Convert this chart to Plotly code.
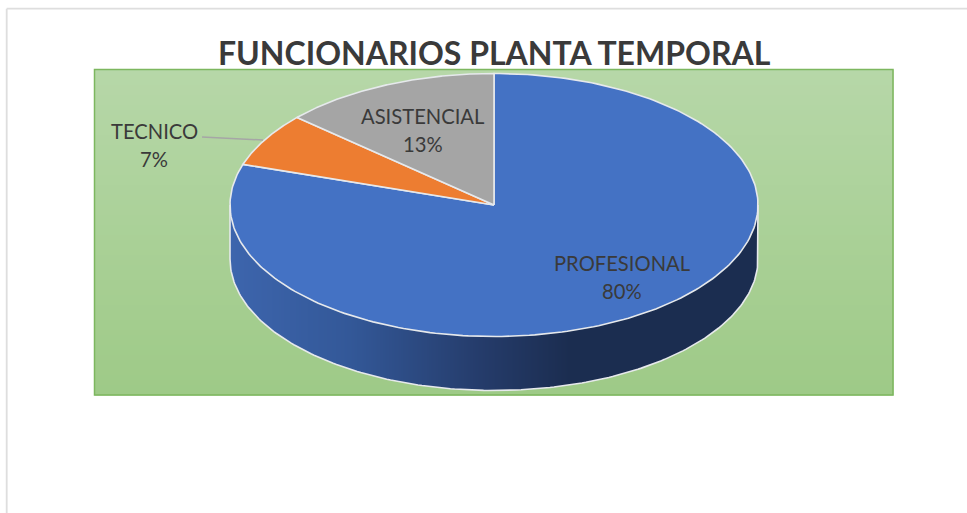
import numpy as np
import plotly.graph_objects as go

TITLE = "FUNCIONARIOS PLANTA TEMPORAL"
categories = ["PROFESIONAL", "TECNICO", "ASISTENCIAL"]
values = [80, 6.6, 13.4]
colors = ["#4472C4", "#ED7D31", "#A5A5A5"]
label_xy = [(622, 263, 291), (154, 131, 159), (423, 116, 144)]

W, H = 967, 513
CX, CY, RX, RY, DEPTH = 494, 205, 264, 131.5, 54
EDGE = "#E6E9EC"
TEXT = "#3A3A3A"
PANEL = (94.5, 69.5, 893, 395)
wall_stops = [(230, "#3D65AD"), (350, "#335898"), (480, "#253C6B"), (570, "#1B2D50"), (758, "#1B2D50")]

fig = go.Figure()

# panel gradient background
rows = 65
band_y = np.linspace(PANEL[1], PANEL[3], rows + 1)
fig.add_trace(go.Heatmap(
    x=[PANEL[0], PANEL[2]], y=band_y,
    z=[[v] for v in np.linspace(0, 1, rows)],
    colorscale=[[0, "#B6D7A8"], [1, "#9ECA87"]], zmin=0, zmax=1,
    showscale=False, hoverinfo="skip"))

def ell(theta):
    """theta in radians, clockwise from 12 o'clock"""
    return CX + RX * np.sin(theta), CY - RY * np.cos(theta)

# side wall: gradient along x, masked to the extruded front half of the ellipse
wx = np.arange(CX - RX, CX + RX + 1)
wy = np.arange(CY, CY + RY + DEPTH + 1)
xc = (wx[:-1] + wx[1:]) / 2
yc = (wy[:-1] + wy[1:]) / 2
XX, YY = np.meshgrid(xc, yc)
lower = CY + RY * np.sqrt(np.clip(1 - ((XX - CX) / RX) ** 2, 0, 1)) + DEPTH
wall_z = np.where(YY <= lower, XX, np.nan)
x_lo, x_hi = wall_stops[0][0], wall_stops[-1][0]
fig.add_trace(go.Heatmap(
    x=wx, y=wy, z=wall_z, zmin=x_lo, zmax=x_hi,
    colorscale=[[(s[0] - x_lo) / (x_hi - x_lo), s[1]] for s in wall_stops],
    showscale=False, hoverinfo="skip"))

# wall outline
t = np.linspace(np.pi / 2, 3 * np.pi / 2, 200)
x, y = ell(t)
fig.add_trace(go.Scatter(x=np.r_[x[0], x, x[-1]], y=np.r_[y[0], y + DEPTH, y[-1]], mode="lines",
                         line=dict(color=EDGE, width=1.6), hoverinfo="skip", showlegend=False))

# top face slices from the values
total = sum(values)
start = 0.0
for name, v, col in zip(categories, values, colors):
    end = start + v / total * 2 * np.pi
    t = np.linspace(start, end, 240)
    x, y = ell(t)
    fig.add_trace(go.Scatter(x=np.r_[CX, x, CX], y=np.r_[CY, y, CY], mode="lines", fill="toself",
                             fillcolor=col, line=dict(color=EDGE, width=1.6),
                             name=name, hoverinfo="name", showlegend=False))
    start = end

# leader line for the small slice
fig.add_trace(go.Scatter(x=[202, 263], y=[137, 140], mode="lines",
                         line=dict(color="#A6A6A6", width=1.5), hoverinfo="skip", showlegend=False))

# labels
for name, v, (lx, y1, y2) in zip(categories, values, label_xy):
    for txt, ly in ((name, y1), (f"{round(v / total * 100)}%", y2)):
        fig.add_annotation(x=lx, y=ly, text=txt, showarrow=False,
                           font=dict(family="Lato", size=20.2, color=TEXT))

fig.add_annotation(x=494.5, y=52, text=f"<b>{TITLE}</b>", showarrow=False,
                   font=dict(family="Lato", size=32, color=TEXT))

fig.update_layout(
    width=W, height=H, margin=dict(l=0, r=0, t=0, b=0),
    paper_bgcolor="white", plot_bgcolor="white", showlegend=False,
    xaxis=dict(range=[0, W], visible=False, fixedrange=True),
    yaxis=dict(range=[H, 0], visible=False, fixedrange=True),
    shapes=[
        dict(type="rect", x0=PANEL[0], y0=PANEL[1], x1=PANEL[2], y1=PANEL[3],
             line=dict(color="#7DB75F", width=1.5), layer="above"),
        dict(type="line", x0=6.7, y0=8.7, x1=W, y1=8.7, line=dict(color="#DEDEDE", width=1.8)),
        dict(type="line", x0=6.7, y0=8.7, x1=6.7, y1=H, line=dict(color="#DEDEDE", width=1.8)),
    ],
)

fig.write_html("out.html", config={"displayModeBar": False},
               post_script="document.body.style.margin='0';document.body.style.overflow='hidden';")
